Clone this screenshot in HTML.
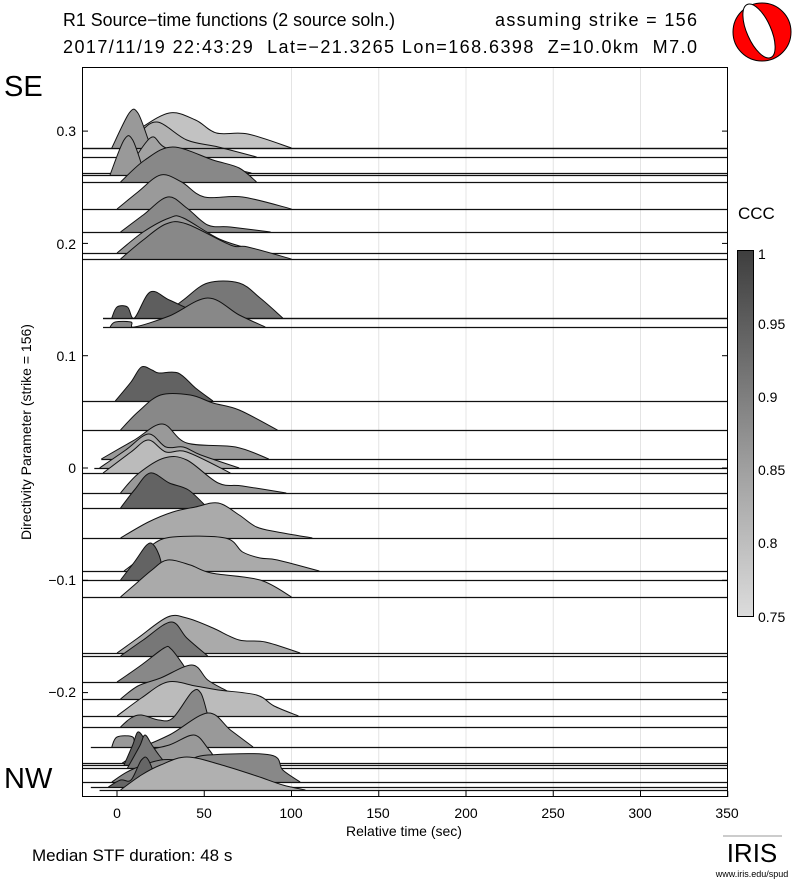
<!DOCTYPE html>
<html><head><meta charset="utf-8"><style>
html,body{margin:0;padding:0;background:#fff;}
svg text{font-family:"Liberation Sans",Arial,sans-serif;white-space:pre;}
</style></head><body>
<svg id="s" width="800" height="887" xmlns="http://www.w3.org/2000/svg">
<defs>
<linearGradient id="cb" x1="0" y1="0" x2="0" y2="1">
<stop offset="0" stop-color="#3e3e3e"/><stop offset="0.3" stop-color="#6e6e6e"/><stop offset="0.6" stop-color="#a0a0a0"/><stop offset="1" stop-color="#dcdcdc"/>
</linearGradient>
</defs>
<text x="63" y="26" font-size="18" textLength="332" lengthAdjust="spacingAndGlyphs">R1 Source−time functions (2 source soln.)</text>
<text x="495" y="26" font-size="18" textLength="202" lengthAdjust="spacing">assuming strike = 156</text>
<text x="63" y="53" font-size="18" textLength="634" lengthAdjust="spacing">2017/11/19 22:43:29  Lat=−21.3265 Lon=168.6398  Z=10.0km  M7.0</text>
<circle cx="762" cy="32" r="29" fill="#f00" stroke="#000" stroke-width="1"/>
<ellipse cx="759" cy="31" rx="12" ry="29" transform="rotate(-24 759 31)" fill="#fff" stroke="#000" stroke-width="1"/>
<text x="4" y="96" font-size="29">SE</text>
<text x="4" y="788" font-size="29">NW</text>
<g id="grid" stroke="#e4e4e4" stroke-width="1"></g>
<g id="tr"></g>
<rect x="82.5" y="67.5" width="645" height="729" fill="none" stroke="#000" stroke-width="1"/>
<g id="ax" stroke="#000" stroke-width="1"></g>
<g font-size="14" text-anchor="end">
<text x="76" y="136">0.3</text><text x="76" y="249">0.2</text><text x="76" y="361">0.1</text><text x="76" y="473">0</text><text x="76" y="585">−0.1</text><text x="76" y="697">−0.2</text>
</g>
<text transform="translate(31 432) rotate(-90)" font-size="14" text-anchor="middle">Directivity Parameter (strike = 156)</text>
<g font-size="14" text-anchor="middle">
<text x="117" y="818">0</text><text x="204" y="818">50</text><text x="291" y="818">100</text><text x="378" y="818">150</text><text x="466" y="818">200</text><text x="553" y="818">250</text><text x="640" y="818">300</text><text x="727" y="818">350</text>
</g>
<text x="404" y="836" font-size="14" text-anchor="middle">Relative time (sec)</text>
<text x="32" y="861" font-size="17">Median STF duration: 48 s</text>
<rect x="737.5" y="250.5" width="16" height="366" fill="url(#cb)" stroke="#000"/>
<text x="738" y="219" font-size="17">CCC</text>
<g font-size="14">
<text x="758" y="259">1</text><text x="758" y="329">0.95</text><text x="758" y="402">0.9</text><text x="758" y="475">0.85</text><text x="758" y="548">0.8</text><text x="758" y="622">0.75</text>
</g>
<text x="752" y="862" font-size="26" font-family="Liberation Serif,serif" text-anchor="middle">IRIS</text>
<text x="752" y="877" font-size="9" text-anchor="middle">www.iris.edu/spud</text>
<line x1="723" y1="836" x2="782" y2="836" stroke="#999" stroke-width="1"/>
</svg>
<script>
var X=function(t){return 117+t*1.745;};
var ns="http://www.w3.org/2000/svg";
function el(p,tag,a){var e=document.createElementNS(ns,tag);for(var k in a)e.setAttribute(k,a[k]);p.appendChild(e);return e;}
var g=document.getElementById('grid');
[100,150,200,250,300].forEach(function(t){el(g,'line',{x1:X(t),x2:X(t),y1:67,y2:797});});
var ax=document.getElementById('ax');
[0.3,0.2,0.1,0,-0.1,-0.2].forEach(function(d){var y=468-d*1123;el(ax,'line',{x1:82,x2:88,y1:y,y2:y});el(ax,'line',{x1:722,x2:728,y1:y,y2:y});});
[0,50,100,150,200,250,300,350].forEach(function(t){el(ax,'line',{x1:X(t),x2:X(t),y1:797,y2:791});});
var T=[
[148,-20,'#c2c2c2',[[-2,148],[12,130],[30,113],[45,120],[57,133],[75,134],[100,148]]],
[157,-20,'#b2b2b2',[[2,157],[12,135],[23,122],[40,140],[58,147],[80,157]]],
[148,-20,'#999',[[-3,148],[7,113],[12,113],[18,140],[20,148]]],
[173,-20,'#a2a2a2',[[5,173],[19,138],[27,147],[45,160],[77,173]]],
[175,-20,'#999',[[-4,175],[4,140],[9,140],[16,175]]],
[182,-20,'#888',[[2,182],[16,160],[32,147],[55,160],[70,168],[80,182]]],
[209,-20,'#9a9a9a',[[0,209],[12,192],[25,175],[37,182],[50,197],[72,197],[100,209]]],
[232,-20,'#898989',[[2,232],[15,215],[29,197],[40,208],[52,225],[65,227],[88,232]]],
[253,-20,'#999',[[0,253],[15,232],[30,218],[38,218],[60,240],[85,253]]],
[259,-20,'#888',[[2,259],[15,240],[28,224],[40,224],[65,245],[75,247],[100,259]]],
[318,-8,'#777',[[25,318],[38,300],[52,283],[70,283],[82,298],[95,318]]],
[318,-8,'#5e5e5e',[[-3,318],[0,307],[6,307],[10,318],[19,292],[30,300],[45,312],[55,318]]],
[327,-8,'#888',[[-4,327],[-1,322],[8,322],[10,327],[30,316],[52,298],[70,315],[85,327]]],
[401,-20,'#626262',[[-1,401],[8,382],[14,367],[20,370],[24,373],[35,373],[45,388],[55,401]]],
[430,-20,'#888',[[2,430],[12,412],[25,395],[42,395],[55,403],[70,410],[92,430]]],
[459,-9,'#999',[[-9,459],[10,440],[26,424],[40,443],[68,447],[87,459]]],
[468,-13,'#aaa',[[-10,468],[5,450],[18,434],[28,447],[38,447],[48,455],[70,468]]],
[473,-20,'#bbb',[[-8,473],[8,452],[18,440],[28,452],[40,452],[65,473]]],
[493,-20,'#999',[[2,493],[12,474],[27,458],[40,460],[58,483],[72,486],[97,493]]],
[508,-20,'#636363',[[2,508],[10,490],[19,473],[30,483],[41,490],[52,508]]],
[538,-20,'#aaa',[[2,538],[18,522],[32,512],[45,507],[58,503],[70,515],[80,527],[92,532],[112,538]]],
[571,-20,'#aaa',[[4,571],[12,560],[20,545],[32,537],[62,538],[72,552],[82,558],[92,560],[116,571]]],
[580,-20,'#636363',[[2,580],[10,562],[17,545],[21,545],[25,560],[26,580]]],
[597,-20,'#aaa',[[2,597],[10,585],[20,570],[29,560],[42,565],[54,573],[82,580],[100,597]]],
[653,-20,'#aaa',[[0,653],[12,638],[29,617],[40,618],[55,628],[70,640],[85,642],[105,653]]],
[656,-20,'#777',[[2,656],[15,640],[31,622],[40,638],[52,656]]],
[682,-20,'#888',[[0,682],[14,665],[27,648],[31,649],[38,665],[44,682]]],
[699,-20,'#999',[[2,699],[12,686],[25,678],[43,665],[52,680],[62,690],[72,699]]],
[716,-20,'#bbb',[[0,716],[14,698],[29,682],[45,686],[58,690],[80,695],[90,706],[104,716]]],
[727,-20,'#888',[[2,727],[8,718],[14,715],[24,720],[32,718],[43,692],[48,693],[52,715],[54,727]]],
[747,-15,'#999',[[-3,747],[0,737],[9,737],[12,747],[30,735],[52,713],[65,730],[78,747]]],
[763,-20,'#999',[[3,763],[14,752],[30,745],[44,735],[52,748],[58,763]]],
[765,-20,'#5e5e5e',[[4,765],[9,745],[12,732],[16,740],[20,755],[22,765]]],
[768,-20,'#777',[[6,768],[13,746],[16,735],[20,745],[24,755],[30,768]]],
[782,-20,'#888',[[-3,782],[8,770],[25,760],[40,760],[52,755],[88,755],[95,770],[105,782]]],
[787,-15,'#666',[[-5,787],[2,780],[8,780],[14,760],[18,760],[24,787]]],
[790,-10,'#b0b0b0',[[2,790],[14,775],[25,765],[40,757],[60,765],[80,776],[95,785],[108,790]]]
];
var tr=document.getElementById('tr');
function smooth(p){var d='M'+p[0][0]+','+p[0][1];for(var i=0;i<p.length-1;i++){var p0=p[i-1]||p[i],p1=p[i],p2=p[i+1],p3=p[i+2]||p2;var c1x=p1[0]+(p2[0]-p0[0])/6,c1y=p1[1]+(p2[1]-p0[1])/6,c2x=p2[0]-(p3[0]-p1[0])/6,c2y=p2[1]-(p3[1]-p1[1])/6;d+=' C'+c1x.toFixed(1)+','+c1y.toFixed(1)+' '+c2x.toFixed(1)+','+c2y.toFixed(1)+' '+p2[0].toFixed(1)+','+p2[1].toFixed(1);}return d;}
T.forEach(function(r){var b=r[0];var pts=r[3].map(function(q){return [X(q[0]),q[1]];});
var d=smooth(pts);
el(tr,'path',{d:d+' Z',fill:r[2],stroke:'none'});
el(tr,'path',{d:d,fill:'none',stroke:'#111','stroke-width':1});
el(tr,'line',{x1:X(r[1]),x2:727,y1:b+0.5,y2:b+0.5,stroke:'#111','stroke-width':1.2});
});
</script>
</body></html>
